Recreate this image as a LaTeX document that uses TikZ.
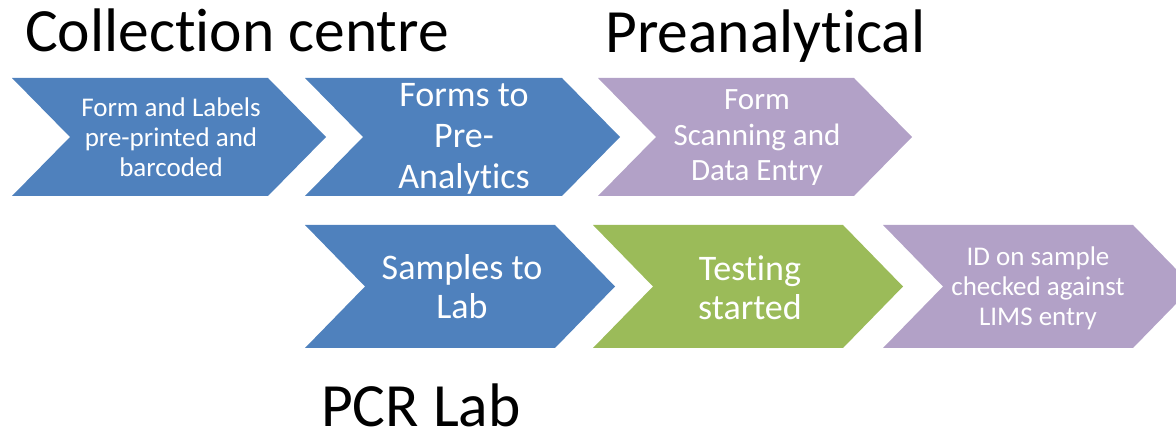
\documentclass[tikz,border=0pt]{standalone}
\usepackage{fontspec}
\setmainfont{Carlito}[Ligatures={NoCommon,NoDiscretionary}]
\definecolor{cblue}{HTML}{4F81BD}
\definecolor{cpurple}{HTML}{B2A1C7}
\definecolor{cgreen}{HTML}{9BBB59}
\newcommand{\chevron}[6]{% x0, y0, width, height, depth, colour
  \fill[#6] (#1,#2) -- ({#1+#3-#5},#2) -- ({#1+#3},{#2+#4/2}) -- ({#1+#3-#5},{#2+#4}) -- (#1,{#2+#4}) -- ({#1+#5},{#2+#4/2}) -- cycle;}
\tikzset{
  txt/.style={text=white, align=center, inner sep=0pt},
  title/.style={anchor=base west, inner sep=0pt, font=\fontsize{61.5}{72}\selectfont}
}
\begin{document}
\begin{tikzpicture}[x=1pt,y=-1pt]
\useasboundingbox (0,0) rectangle (1176,430);
% row 1
\chevron{12}{78}{314}{118}{58}{cblue}
\chevron{305}{78}{315}{118}{58}{cblue}
\chevron{598}{78}{314}{118}{58}{cpurple}
% row 2
\chevron{305}{225}{310}{123}{60}{cblue}
\chevron{593}{225}{310}{123}{60}{cgreen}
\chevron{883}{225}{310}{123}{60}{cpurple}
% texts
\node[txt, font=\fontsize{27}{30}\selectfont] (c1) at (171,137) {Form and Labels\\pre-printed and\\barcoded};
\node[txt, font=\fontsize{36}{41}\selectfont] (c2) at (464,139) {Forms to\\Pre-\\Analytics};
\node[txt, font=\fontsize{31}{35.5}\selectfont] (p1) at (757,138) {Form\\Scanning and\\Data Entry};
\node[txt, font=\fontsize{36}{39}\selectfont] (l1) at (462,287) {Samples to\\Lab};
\node[txt, font=\fontsize{36}{39}\selectfont] (l2) at (750,288) {Testing\\started};
\node[txt, font=\fontsize{27}{30}\selectfont] (p2) at (1038,288) {ID on sample\\checked against\\LIMS entry};
% titles
\node[title] (tcc) at (25,52) {Collection centre};
\node[title] (tpre) at (605,53) {Preanalytical};
\node[title] (tpcr) at (321,426) {PCR Lab};
\end{tikzpicture}
\end{document}
